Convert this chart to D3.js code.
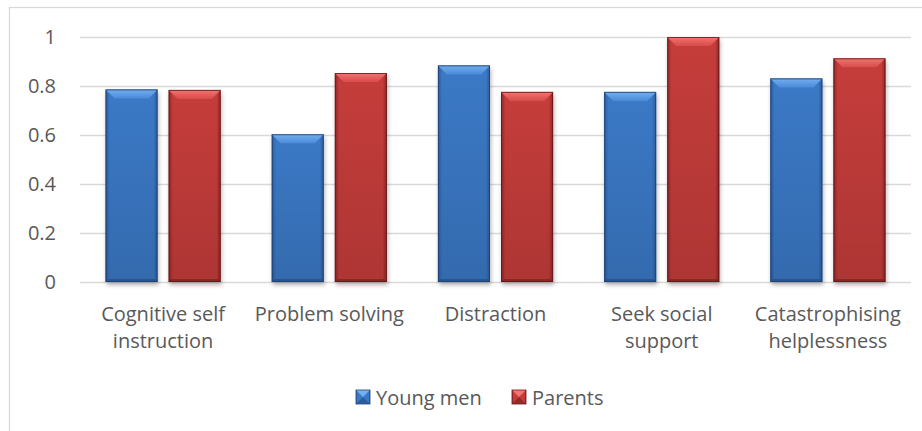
<!DOCTYPE html>
<html>
<head>
<meta charset="utf-8">
<script src="https://cdn.jsdelivr.net/npm/d3@7"></script>
<style>
  body { margin: 0; background: #fff; }
  text { font-family: "Open Sans", sans-serif; fill: #595959; }
</style>
</head>
<body>
<div id="chart"></div>
<script>
// Data
const categories = ['Cognitive self instruction', 'Problem solving', 'Distraction', 'Seek social support', 'Catastrophising helplessness'];
const seriesNames = ['Young men', 'Parents'];
const youngMen = [0.786, 0.603, 0.884, 0.776, 0.831];
const parents = [0.784, 0.853, 0.776, 1.0, 0.913];
const yTicks = [0, 0.2, 0.4, 0.6, 0.8, 1];

const width = 922;
const height = 431;
const margin = { left: 80, right: 11, top: 37, bottom: 149 };

const colours = {
  'Young men': { edge: '#2b5b9c', body: '#3b79c6', light: '#74b0f0', mid: '#4a8bd8', dark: '#1d3f70' },
  'Parents':   { edge: '#902628', body: '#c53c3a', light: '#f27471', mid: '#d84c4a', dark: '#641617' }
};

const svg = d3.select('#chart').append('svg')
  .attr('width', width)
  .attr('height', height);

const defs = svg.append('defs');

// Bar gradients (darker at the edges, like the bevelled look)
seriesNames.forEach((name, i) => {
  const c = colours[name];
  const g = defs.append('linearGradient').attr('id', 'body' + i)
    .attr('x1', 0).attr('x2', 1).attr('y1', 0).attr('y2', 0);
  g.append('stop').attr('offset', '0%').attr('stop-color', c.edge);
  g.append('stop').attr('offset', '8%').attr('stop-color', c.body);
  g.append('stop').attr('offset', '92%').attr('stop-color', c.body);
  g.append('stop').attr('offset', '100%').attr('stop-color', c.edge);

  const t = defs.append('linearGradient').attr('id', 'top' + i)
    .attr('x1', 0).attr('x2', 0).attr('y1', 0).attr('y2', 1);
  t.append('stop').attr('offset', '0%').attr('stop-color', c.light);
  t.append('stop').attr('offset', '100%').attr('stop-color', c.mid);
});

const shade = defs.append('linearGradient').attr('id', 'shade')
  .attr('x1', 0).attr('x2', 0).attr('y1', 0).attr('y2', 1);
shade.append('stop').attr('offset', '0%').attr('stop-color', '#000').attr('stop-opacity', 0);
shade.append('stop').attr('offset', '100%').attr('stop-color', '#000').attr('stop-opacity', 0.12);

const shadow = defs.append('filter').attr('id', 'shadow')
  .attr('x', '-20%').attr('y', '-10%').attr('width', '140%').attr('height', '130%');
shadow.append('feDropShadow')
  .attr('dx', 1).attr('dy', 3).attr('stdDeviation', 2)
  .attr('flood-color', '#000').attr('flood-opacity', 0.3);

// Outer border
svg.append('rect')
  .attr('x', 9.5).attr('y', 7.5)
  .attr('width', 930).attr('height', 440)
  .attr('fill', '#fff')
  .attr('stroke', '#d9d9d9')
  .attr('stroke-width', 1.3);

// Scales
const x0 = d3.scaleBand()
  .domain(categories)
  .range([margin.left, width - margin.right])
  .paddingInner(0.307)
  .paddingOuter(0.1535);

const x1 = d3.scaleBand()
  .domain(seriesNames)
  .range([0, x0.bandwidth()])
  .paddingInner(0.175);

const y = d3.scaleLinear()
  .domain([0, 1])
  .range([height - margin.bottom, margin.top]);

// Grid lines
svg.append('g').selectAll('line')
  .data(yTicks)
  .enter().append('line')
    .attr('x1', margin.left).attr('x2', width - margin.right)
    .attr('y1', d => Math.round(y(d)) + 0.5).attr('y2', d => Math.round(y(d)) + 0.5)
    .attr('stroke', '#d9d9d9')
    .attr('stroke-width', 1.5);

// Y axis labels
svg.append('g').selectAll('text')
  .data(yTicks)
  .enter().append('text')
    .attr('x', 56)
    .attr('y', d => y(d) + 7)
    .attr('text-anchor', 'end')
    .style('font-size', '20px')
    .text(d => d3.format('~g')(d));

// Bars
const rows = categories.map((cat, i) => ({ cat, values: [youngMen[i], parents[i]] }));

const groups = svg.append('g').selectAll('g')
  .data(rows)
  .enter().append('g')
    .attr('transform', d => `translate(${x0(d.cat)},0)`);

const bars = groups.selectAll('g.bar')
  .data(d => d.values.map((v, i) => ({ name: seriesNames[i], i, v })))
  .enter().append('g').attr('class', 'bar');

bars.append('rect')
  .attr('x', d => x1(d.name))
  .attr('y', d => y(d.v))
  .attr('width', x1.bandwidth())
  .attr('height', d => y(0) - y(d.v))
  .attr('fill', d => `url(#body${d.i})`)
  .attr('filter', 'url(#shadow)');

bars.append('rect')
  .attr('x', d => x1(d.name))
  .attr('y', d => y(d.v))
  .attr('width', x1.bandwidth())
  .attr('height', d => y(0) - y(d.v))
  .attr('fill', 'url(#shade)');

// top bevel
const bevel = 9;
bars.append('path')
  .attr('d', d => {
    const bx = x1(d.name), bw = x1.bandwidth(), by = y(d.v);
    return `M${bx},${by} L${bx + bw},${by} L${bx + bw - bevel},${by + bevel} L${bx + bevel},${by + bevel} Z`;
  })
  .attr('fill', d => `url(#top${d.i})`);

// bottom bevel
bars.append('path')
  .attr('d', d => {
    const bx = x1(d.name), bw = x1.bandwidth(), by = y(0);
    return `M${bx},${by} L${bx + bw},${by} L${bx + bw - 3},${by - 3} L${bx + 3},${by - 3} Z`;
  })
  .attr('fill', d => colours[d.name].dark)
  .attr('opacity', 0.5);

// outline
bars.append('rect')
  .attr('x', d => x1(d.name) + 0.5)
  .attr('y', d => y(d.v) + 0.5)
  .attr('width', x1.bandwidth() - 1)
  .attr('height', d => y(0) - y(d.v) - 1)
  .attr('fill', 'none')
  .attr('stroke', d => colours[d.name].dark)
  .attr('stroke-opacity', 0.8)
  .attr('stroke-width', 1);

// Category labels (wrapped)
const labels = svg.append('g').selectAll('text')
  .data(categories)
  .enter().append('text')
    .attr('x', d => x0(d) + x0.bandwidth() / 2)
    .attr('y', 321)
    .attr('text-anchor', 'middle')
    .style('font-size', '20px')
    .text(d => d);

labels.each(function (d) {
  const text = d3.select(this);
  const words = d.split(' ');
  const maxW = x0.step() - 6;
  const cx = text.attr('x');
  text.text(null);
  let line = [];
  let tspan = text.append('tspan').attr('x', cx).attr('dy', 0);
  words.forEach(w => {
    line.push(w);
    tspan.text(line.join(' '));
    if (tspan.node().getComputedTextLength() > maxW && line.length > 1) {
      line.pop();
      tspan.text(line.join(' '));
      line = [w];
      tspan = text.append('tspan').attr('x', cx).attr('dy', 27).text(w);
    }
  });
});

// Legend
const legend = svg.append('g').attr('transform', 'translate(0,405)');
const legendX = [356, 512];
seriesNames.forEach((name, i) => {
  const g = legend.append('g').attr('transform', `translate(${legendX[i]},0)`);
  g.append('rect')
    .attr('x', 0).attr('y', -15)
    .attr('width', 14).attr('height', 14)
    .attr('fill', `url(#body${i})`)
    .attr('stroke', colours[name].dark)
    .attr('stroke-width', 0.8);
  g.append('path')
    .attr('d', 'M0.5,-14.5 L13.5,-14.5 L7,-8 Z')
    .attr('fill', colours[name].light);
  g.append('path')
    .attr('d', 'M0.5,-1.5 L13.5,-1.5 L7,-8 Z')
    .attr('fill', colours[name].dark)
    .attr('opacity', 0.5);
  g.append('text')
    .attr('x', 20).attr('y', 0)
    .style('font-size', '20px')
    .text(name);
});
</script>
</body>
</html>
